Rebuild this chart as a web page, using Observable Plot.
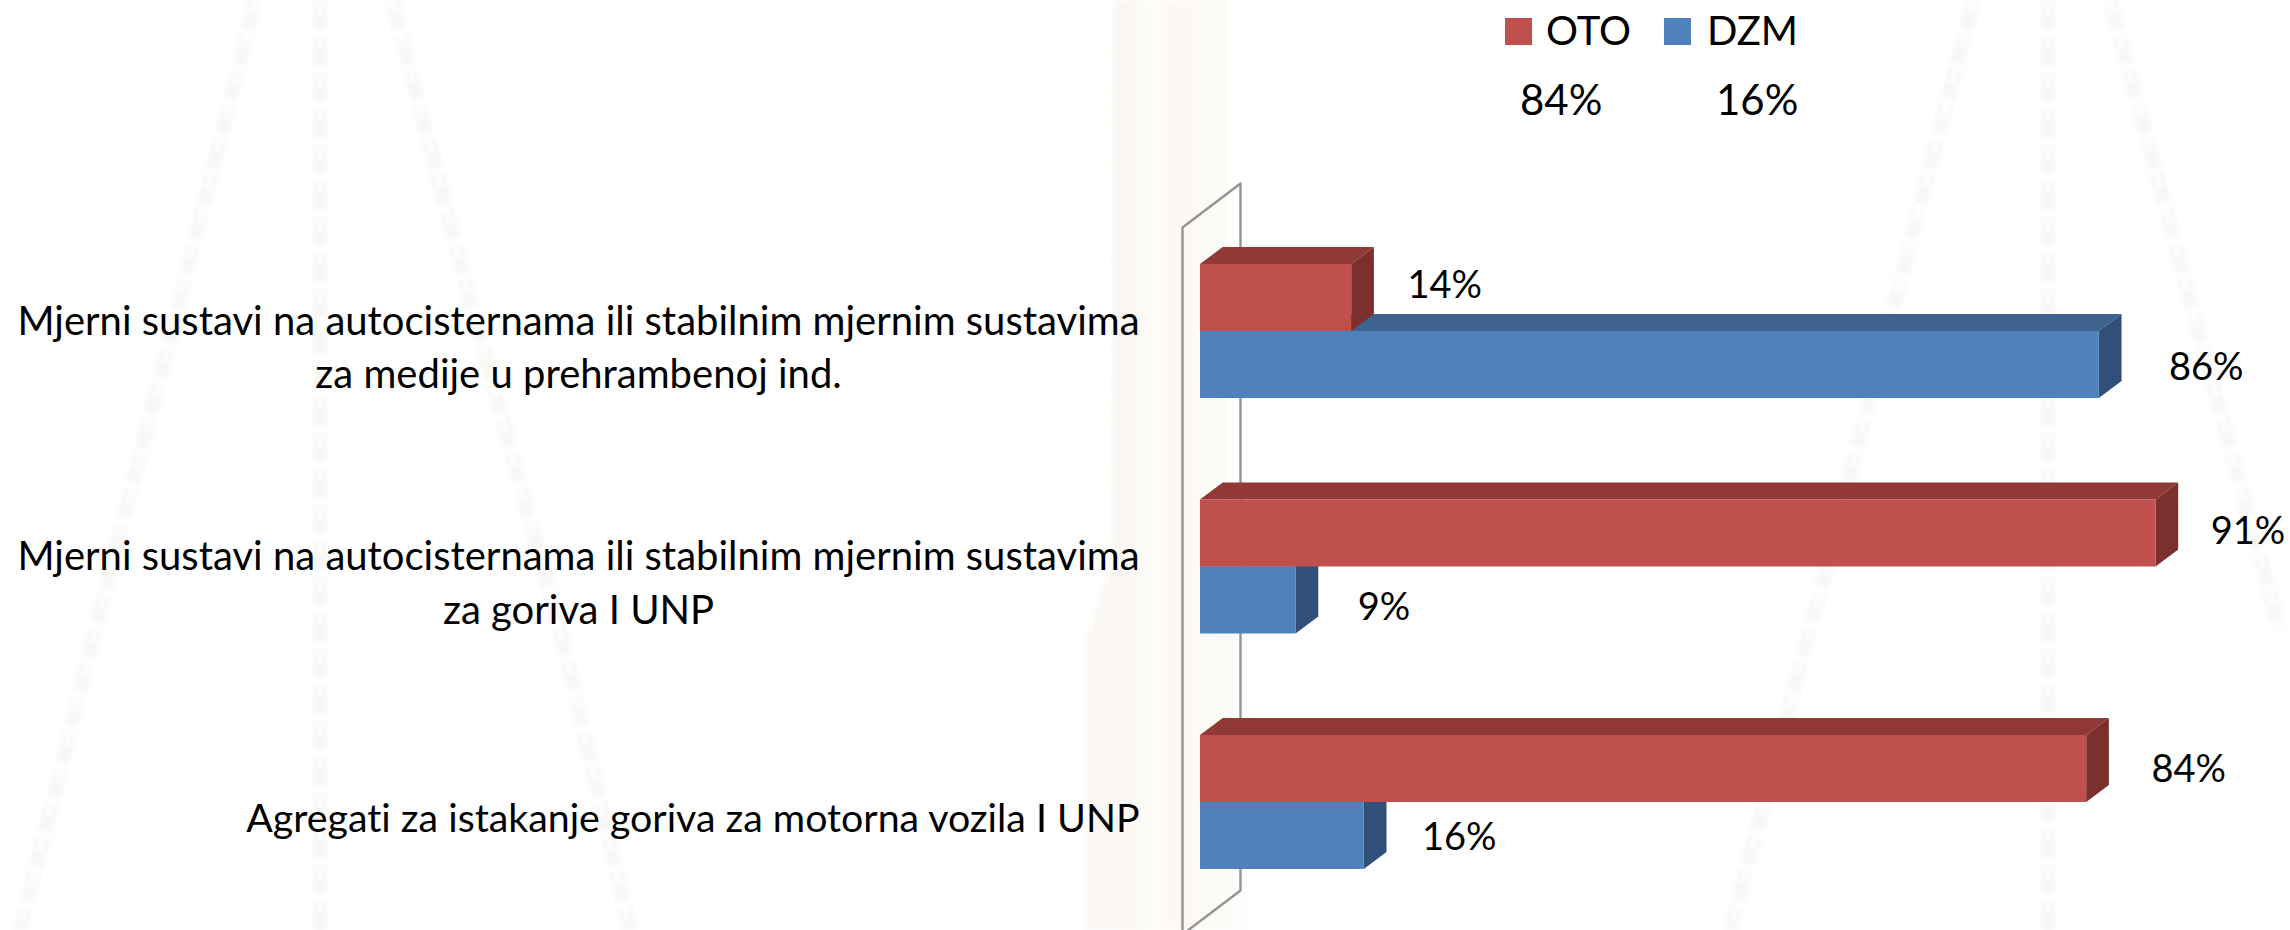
<!DOCTYPE html>
<html>
<head>
<meta charset="utf-8">
<script src="https://cdn.jsdelivr.net/npm/d3@7"></script>
<script src="https://cdn.jsdelivr.net/npm/@observablehq/plot@0.6"></script>
<style>
  html, body { margin: 0; padding: 0; background: #fff; width: 2290px; height: 930px; overflow: hidden; }
  #stage { position: relative; width: 2290px; height: 930px; overflow: hidden; font-family: Lato, sans-serif; color: #000; font-variant-ligatures: none; }
  #stage > * { position: absolute; }
  #watermark { left: 0; top: 0; }
  #chart { left: 0; top: 0; }
  #chart svg { background: transparent; display: block; font-variant-ligatures: none; }
  .lg { font-size: 40px; line-height: 46px; white-space: nowrap; }
  .pc { font-size: 42px; line-height: 46px; white-space: nowrap; }
  .sw { width: 27px; height: 27px; top: 18px; }
</style>
</head>
<body>
<div id="stage">
  <svg id="watermark" width="2290" height="930" viewBox="0 0 2290 930" fill="none">
    <defs>
      <linearGradient id="pillar" x1="0" x2="1" y1="0" y2="0">
        <stop offset="0" stop-color="#faf8f5"/>
        <stop offset=".25" stop-color="#fbf6f2"/>
        <stop offset=".42" stop-color="#fefdf9"/>
        <stop offset=".5" stop-color="#fef8f5"/>
        <stop offset=".65" stop-color="#fcf9f4"/>
        <stop offset="1" stop-color="#fefdfb"/>
      </linearGradient>
      <filter id="soft"><feGaussianBlur stdDeviation="2"/></filter>
      <g id="chains">
        <path d="M255 0L180 300L95 630L20 930"/>
        <path d="M320 0V930"/>
        <path d="M392 0L470 300L560 630L630 930"/>
        <path d="M1974 0L1895 300L1810 630L1730 930"/>
        <path d="M2048 0V930"/>
        <path d="M2110 0L2190 300L2280 630"/>
      </g>
    </defs>
    <path d="M1113 0H1227V560L1250 640V930H1086V640L1112 560Z" fill="url(#pillar)" filter="url(#soft)"/>
    <g filter="url(#soft)">
      <use href="#chains" stroke="#f8f7f5" stroke-width="14" stroke-dasharray="30 6"/>
      <use href="#chains" stroke="#ffffff" stroke-width="5" stroke-dasharray="14 22"/>
    </g>
  </svg>
  <div id="chart"></div>
  <div class="sw" style="left:1505px;background:#C0504D"></div>
  <div class="lg" style="left:1546px;top:7px" id="lg0"></div>
  <div class="sw" style="left:1664px;background:#4F81BD"></div>
  <div class="lg" style="left:1707px;top:7px" id="lg1"></div>
  <div class="pc" style="left:1520px;top:76px" id="lt0"></div>
  <div class="pc" style="left:1716px;top:76px" id="lt1"></div>
</div>
<script>
// ---- data ----
const categories = [
  ["Mjerni sustavi na autocisternama ili stabilnim mjernim sustavima", "za medije u prehrambenoj ind."],
  ["Mjerni sustavi na autocisternama ili stabilnim mjernim sustavima", "za goriva I UNP"],
  ["Agregati za istakanje goriva za motorna vozila I UNP"]
];
const series = ["OTO", "DZM"];
const otoValues = [14.4, 91, 84.4];
const dzmValues = [85.6, 9.1, 15.6];
const legendTotals = ["84%", "16%"];

// ---- layout / style ----
const W = 2290, H = 930;
const pxPerPct = 10.5, zeroPx = 1200;     // x scale
const pxPerRow = 235.5, firstRowPx = 331; // y scale
const barH = 67 / pxPerRow;
const depthX = 22.7 / pxPerPct, depthY = 17 / pxPerRow;
const colors = {
  OTO: {front: "#C0504D", top: "#903937", side: "#7C302E"},
  DZM: {front: "#4F81BD", top: "#3F638F", side: "#314F79"}
};
// hand-placed data labels in the source: offset of each label from its bar end (px)
const labelOffset = {
  OTO: [[93, -12], [92, -2], [102, 1]],
  DZM: [[107, 3], [88, 7], [95, 2]]
};
const font = "Lato, sans-serif", valSize = 38;

const bars = [];
series.forEach((s, k) => {
  (k === 0 ? otoValues : dzmValues).forEach((v, i) => {
    const y1 = k === 0 ? i - barH : i, y2 = y1 + barH;
    bars.push({series: s, row: i, value: v, y1, y2, id: s + i,
      lx: v + labelOffset[s][i][0] / pxPerPct,
      ly: i + (k === 0 ? -barH : barH) / 2 + labelOffset[s][i][1] / pxPerRow,
      label: Math.round(v) + "%"});
  });
});
const topFace = bars.flatMap(b => [
  {id: b.id, series: b.series, y: b.y1, x1: 0, x2: b.value},
  {id: b.id, series: b.series, y: b.y1 - depthY, x1: depthX, x2: b.value + depthX}
]);
const sideFace = bars.flatMap(b => [
  {id: b.id, series: b.series, x: b.value, y1: b.y1, y2: b.y2},
  {id: b.id, series: b.series, x: b.value + depthX, y1: b.y1 - depthY, y2: b.y2 - depthY}
]);
// the chart's 3-D back wall, in scale units
const wallL = -18 / pxPerPct, wallR = 40 / pxPerPct;
const wallT = (227 - firstRowPx) / pxPerRow, wallB = (934 - firstRowPx) / pxPerRow, wallD = 44 / pxPerRow;
const wall = [
  {x: wallL, y: wallB}, {x: wallL, y: wallT}, {x: wallR, y: wallT - wallD},
  {x: wallR, y: wallB - wallD}, {x: wallL, y: wallB}
];

const faces = s => [
  Plot.areaX(topFace.filter(d => d.series === s), {y: "y", x1: "x1", x2: "x2", z: "id", fill: colors[s].top}),
  Plot.areaY(sideFace.filter(d => d.series === s), {x: "x", y1: "y1", y2: "y2", z: "id", fill: colors[s].side}),
  Plot.rect(bars.filter(d => d.series === s), {x1: 0, x2: "value", y1: "y1", y2: "y2", fill: colors[s].front})
];

const rows = categories.map((lines, i) => ({i, lines}));
const twoLine = rows.filter(r => r.lines.length === 2);
const oneLine = rows.filter(r => r.lines.length === 1);

const chart = Plot.plot({
  width: W, height: H,
  margin: 0,
  style: {background: "transparent", fontFamily: font},
  x: {domain: [-zeroPx / pxPerPct, (W - zeroPx) / pxPerPct], range: [0, W], axis: null},
  y: {domain: [-firstRowPx / pxPerRow, (H - firstRowPx) / pxPerRow], range: [0, H], axis: null},
  marks: [
    Plot.line(wall, {x: "x", y: "y", stroke: "#949494", strokeWidth: 2.4}),
    ...faces("DZM"),
    ...faces("OTO"),
    Plot.text(bars, {x: "lx", y: "ly", text: "label", fontSize: valSize, fill: "#000"}),
    Plot.text(twoLine, {x: 0, y: "i", text: d => d.lines.join("\n"), textAnchor: "middle", dx: -622, dy: 13, fontSize: 40, lineHeight: 1.34, fill: "#000"}),
    Plot.text(oneLine, {x: 0, y: "i", text: d => d.lines.join("\n"), textAnchor: "end", dx: -61, dy: 17, fontSize: 39.3, fill: "#000"})
  ]
});
document.getElementById("chart").append(chart);
document.getElementById("lg0").textContent = series[0];
document.getElementById("lg1").textContent = series[1];
document.getElementById("lt0").textContent = legendTotals[0];
document.getElementById("lt1").textContent = legendTotals[1];
</script>
</body>
</html>
